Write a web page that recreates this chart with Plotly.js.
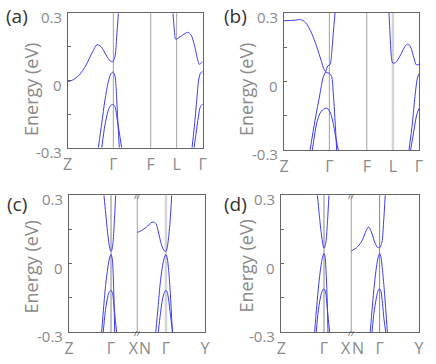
<!DOCTYPE html>
<html><head><meta charset="utf-8">
<script src="https://cdn.plot.ly/plotly-3.0.1.min.js"></script>
<style>html,body{margin:0;padding:0;background:#fff}#chart{width:436px;height:364px}</style>
</head><body><div id="chart"></div>
<script>
// ---------- tick labels / high-symmetry points ----------
var a_tickvals = [0, 0.338, 0.615, 0.807, 1];
var a_ticktext = ['Z', 'Γ', 'F', 'L', 'Γ'];
var b_tickvals = [0, 0.336, 0.613, 0.807, 1];
var b_ticktext = ['Z', 'Γ', 'F', 'L', 'Γ'];
var c_tickvals = [0, 0.309, 0.474, 0.559, 0.713, 1];
var c_ticktext = ['Z', 'Γ', 'X', 'N', 'Γ', 'Y'];
var d_tickvals = [0, 0.310, 0.467, 0.557, 0.714, 1];
var d_ticktext = ['Z', 'Γ', 'X', 'N', 'Γ', 'Y'];
var c_break = 0.502, d_break = 0.508;
var y_tickvals = [-0.3, -0.15, 0, 0.15, 0.3];
var y_labelvals = [-0.3, 0, 0.3];
var y_labeltext = ['-0.3', '0', '0.3'];

// ---------- panel (a) bands ----------
var a_cb1_x = [0, 0.037, 0.086, 0.136, 0.185, 0.218, 0.247, 0.284, 0.316, 0.333, 0.350, 0.363, 0.375];
var a_cb1_y = [-0.005, 0.002, 0.025, 0.069, 0.129, 0.160, 0.151, 0.114, 0.087, 0.084, 0.106, 0.196, 0.3];
var a_v1_x = [0.227, 0.252, 0.276, 0.301, 0.319, 0.333, 0.348, 0.358, 0.367, 0.382];
var a_v1_y = [-0.3, -0.191, -0.087, -0.005, 0.029, 0.037, 0.025, -0.028, -0.132, -0.3];
var a_v2_x = [0.252, 0.276, 0.301, 0.319, 0.333, 0.350, 0.367, 0.387, 0.399];
var a_v2_y = [-0.3, -0.199, -0.132, -0.111, -0.107, -0.117, -0.176, -0.251, -0.3];
var a_cb2_x = [0.780, 0.790, 0.800, 0.815, 0.852, 0.889, 0.914, 0.938, 0.963, 0.975, 0.988, 1.0];
var a_cb2_y = [0.3, 0.226, 0.184, 0.188, 0.203, 0.215, 0.203, 0.159, 0.092, 0.072, 0.077, 0.084];
var a_v1r_x = [0.921, 0.938, 0.956, 0.970, 0.985, 1.0];
var a_v1r_y = [-0.3, -0.206, -0.087, 0.002, 0.035, 0.039];
var a_v2r_x = [0.936, 0.951, 0.968, 0.983, 1.0];
var a_v2r_y = [-0.3, -0.236, -0.162, -0.117, -0.105];

// ---------- panel (b) bands ----------
var b_b1_x = [0, 0.074, 0.123, 0.160, 0.205, 0.242, 0.274, 0.299, 0.316, 0.336, 0.353, 0.365, 0.378, 0.390];
var b_b1_y = [0.266, 0.268, 0.271, 0.258, 0.211, 0.153, 0.094, 0.050, 0.039, 0.036, 0.021, -0.052, -0.169, -0.3];
var b_b2_x = [0.193, 0.230, 0.267, 0.291, 0.309, 0.324, 0.341, 0.353, 0.365, 0.378];
var b_b2_y = [-0.3, -0.169, -0.052, 0.021, 0.043, 0.068, 0.074, 0.123, 0.211, 0.3];
var b_b3_x = [0.210, 0.242, 0.267, 0.291, 0.316, 0.333, 0.353, 0.378, 0.402];
var b_b3_y = [-0.3, -0.183, -0.139, -0.122, -0.117, -0.125, -0.154, -0.227, -0.3];
var b_cb_x = [0.778, 0.785, 0.795, 0.805, 0.827, 0.864, 0.901, 0.919, 0.938, 0.963, 0.980, 1.0];
var b_cb_y = [0.3, 0.212, 0.110, 0.081, 0.083, 0.117, 0.158, 0.164, 0.151, 0.102, 0.073, 0.076];
var b_b1r_x = [0.926, 0.951, 0.970, 0.988, 1.0];
var b_b1r_y = [-0.3, -0.183, -0.066, 0.015, 0.034];
var b_b3r_x = [0.938, 0.963, 0.983, 1.0];
var b_b3r_y = [-0.3, -0.212, -0.146, -0.117];

// ---------- panel (c) bands ----------
var c_cb1_x = [0.257, 0.270, 0.283, 0.296, 0.305, 0.309, 0.314, 0.323, 0.333, 0.343];
var c_cb1_y = [0.3, 0.22, 0.14, 0.08, 0.057, 0.054, 0.058, 0.09, 0.18, 0.3];
var c_v1_x = [0.240, 0.255, 0.270, 0.285, 0.298, 0.309, 0.317, 0.323, 0.329, 0.336];
var c_v1_y = [-0.3, -0.19, -0.09, -0.02, 0.025, 0.040, 0.025, -0.02, -0.12, -0.3];
var c_v2_x = [0.252, 0.265, 0.280, 0.295, 0.309, 0.320, 0.330, 0.341, 0.350];
var c_v2_y = [-0.3, -0.22, -0.16, -0.125, -0.117, -0.13, -0.18, -0.25, -0.3];
var c_cb2_x = [0.502, 0.520, 0.571, 0.600, 0.620, 0.640, 0.657, 0.681, 0.701, 0.713, 0.725, 0.743, 0.755];
var c_cb2_y = [0.138, 0.141, 0.161, 0.178, 0.183, 0.175, 0.139, 0.081, 0.056, 0.054, 0.081, 0.183, 0.3];
var c_v1r_x = [0.638, 0.655, 0.670, 0.685, 0.700, 0.712, 0.722, 0.733, 0.745, 0.760];
var c_v1r_y = [-0.3, -0.19, -0.09, -0.02, 0.025, 0.040, 0.025, -0.03, -0.13, -0.3];
var c_v2r_x = [0.657, 0.672, 0.688, 0.702, 0.712, 0.722, 0.733, 0.745, 0.762];
var c_v2r_y = [-0.3, -0.22, -0.155, -0.125, -0.117, -0.125, -0.16, -0.22, -0.3];

// ---------- panel (d) bands ----------
var d_cb1_x = [0.262, 0.275, 0.287, 0.299, 0.306, 0.310, 0.315, 0.325, 0.336, 0.346];
var d_cb1_y = [0.3, 0.22, 0.15, 0.095, 0.072, 0.068, 0.072, 0.10, 0.19, 0.3];
var d_v1_x = [0.242, 0.257, 0.272, 0.287, 0.300, 0.310, 0.318, 0.324, 0.331, 0.339];
var d_v1_y = [-0.3, -0.19, -0.09, -0.015, 0.030, 0.044, 0.030, -0.02, -0.12, -0.3];
var d_v2_x = [0.254, 0.267, 0.282, 0.297, 0.310, 0.321, 0.331, 0.342, 0.351];
var d_v2_y = [-0.3, -0.215, -0.155, -0.12, -0.110, -0.123, -0.175, -0.245, -0.3];
var d_cb2_x = [0.508, 0.545, 0.581, 0.617, 0.634, 0.654, 0.678, 0.697, 0.714, 0.731, 0.743, 0.755];
var d_cb2_y = [0.056, 0.069, 0.095, 0.146, 0.161, 0.139, 0.095, 0.073, 0.070, 0.095, 0.183, 0.3];
var d_v1r_x = [0.646, 0.661, 0.676, 0.691, 0.704, 0.714, 0.723, 0.735, 0.750, 0.770];
var d_v1r_y = [-0.3, -0.19, -0.09, -0.015, 0.030, 0.044, 0.030, -0.03, -0.13, -0.3];
var d_v2r_x = [0.659, 0.673, 0.689, 0.702, 0.714, 0.724, 0.735, 0.746, 0.758];
var d_v2r_y = [-0.3, -0.215, -0.155, -0.12, -0.110, -0.123, -0.175, -0.245, -0.3];

// ---------- build ----------
var BLUE = '#3c3cf5';
var traces = [];
function band(x, y, ax) {
  traces.push({x: x, y: y, xaxis: 'x' + ax, yaxis: 'y' + ax, type: 'scatter', mode: 'lines',
    line: {color: BLUE, width: 1, shape: 'spline', smoothing: 0.8}, hoverinfo: 'skip', showlegend: false});
}
band(a_cb1_x, a_cb1_y, ''); band(a_v1_x, a_v1_y, ''); band(a_v2_x, a_v2_y, '');
band(a_cb2_x, a_cb2_y, ''); band(a_v1r_x, a_v1r_y, ''); band(a_v2r_x, a_v2r_y, '');
band(b_b1_x, b_b1_y, '2'); band(b_b2_x, b_b2_y, '2'); band(b_b3_x, b_b3_y, '2');
band(b_cb_x, b_cb_y, '2'); band(b_b1r_x, b_b1r_y, '2'); band(b_b3r_x, b_b3r_y, '2');
band(c_cb1_x, c_cb1_y, '3'); band(c_v1_x, c_v1_y, '3'); band(c_v2_x, c_v2_y, '3');
band(c_cb2_x, c_cb2_y, '3'); band(c_v1r_x, c_v1r_y, '3'); band(c_v2r_x, c_v2r_y, '3');
band(d_cb1_x, d_cb1_y, '4'); band(d_v1_x, d_v1_y, '4'); band(d_v2_x, d_v2_y, '4');
band(d_cb2_x, d_cb2_y, '4'); band(d_v1r_x, d_v1r_y, '4'); band(d_v2r_x, d_v2r_y, '4');

var W = 436, H = 364;
function dx(p0, p1) { return [p0 / W, p1 / W]; }
function dy(top, bot) { return [1 - bot / H, 1 - top / H]; }
var FONT = '"Open Sans", "DejaVu Sans", sans-serif';
var FRAME = '#666666';
var TXT = '#8a8a8a';
function xax(dom, tv, tt) {
  return {domain: dom, range: [0, 1], showgrid: false, zeroline: false, showline: true, mirror: true,
    linecolor: FRAME, linewidth: 1, ticks: '', tickvals: tv, ticktext: tt, tickangle: 0, ticklabelstandoff: 2,
    tickfont: {family: FONT, size: 16, color: TXT}, fixedrange: true};
}
function yax(dom, anchor) {
  return {domain: dom, anchor: anchor, range: [-0.3, 0.3], showgrid: false, zeroline: false, showline: true, mirror: true,
    linecolor: FRAME, linewidth: 1, ticks: 'inside', ticklen: 3, tickcolor: FRAME, tickwidth: 1,
    tickvals: y_tickvals, showticklabels: false, fixedrange: true};
}
var shapes = [];
function vline(ax, x, color, width) {
  shapes.push({type: 'line', xref: 'x' + ax, yref: 'y' + ax + ' domain', x0: x, x1: x, y0: 0, y1: 1,
    line: {color: color, width: width}, layer: 'below'});
}
var G = '#a0a0a0', LG = '#d4d4d4';
vline('', a_tickvals[1], G, 1); vline('', a_tickvals[2], G, 1); vline('', a_tickvals[3], G, 1);
vline('2', b_tickvals[1], G, 1); vline('2', b_tickvals[2], G, 1); vline('2', b_tickvals[3], LG, 2.5);
vline('3', c_tickvals[1], '#888888', 1); vline('3', c_break, G, 1); vline('3', c_tickvals[4], LG, 2.5);
vline('4', d_tickvals[1], '#888888', 1); vline('4', d_break, G, 1); vline('4', d_tickvals[4], '#888888', 1);

var ann = [];
function label(txt, px, py) {
  ann.push({text: txt, xref: 'paper', yref: 'paper', x: px / W, y: 1 - py / H, xanchor: 'center', yanchor: 'middle',
    showarrow: false, font: {family: FONT, size: 19, color: '#333333'}});
}
function ytitle(px, py) {
  ann.push({text: 'Energy (eV)', xref: 'paper', yref: 'paper', x: px / W, y: 1 - py / H, xanchor: 'center', yanchor: 'middle',
    textangle: -90, showarrow: false, font: {family: FONT, size: 18, color: TXT}});
}
function ylabels(ax, leftpx) {
  for (var i = 0; i < y_labelvals.length; i++) {
    ann.push({text: y_labeltext[i], xref: 'paper', yref: 'y' + ax, x: (leftpx - 4) / W, y: y_labelvals[i],
      xanchor: 'right', yanchor: 'middle', yshift: -4, showarrow: false,
      font: {family: FONT, size: 15, color: TXT}});
  }
}
function brk(ax, x, yv) {
  ann.push({text: '//', xref: 'x' + ax, yref: 'y' + ax, x: x, y: yv, xanchor: 'center', yanchor: 'middle',
    showarrow: false, font: {family: FONT, size: 8, color: '#444444'}});
}
label('(a)', 17, 16); label('(b)', 235, 16); label('(c)', 17, 204); label('(d)', 235, 204);
ytitle(30.5, 89.5); ytitle(245.5, 89.5); ytitle(30.5, 267); ytitle(245.5, 266);
ylabels('', 67.7); ylabels('2', 284); ylabels('3', 69); ylabels('4', 281.3);
brk('3', c_break, 0.3); brk('3', c_break, -0.3); brk('4', d_break, 0.3); brk('4', d_break, -0.3);

var layout = {
  width: W, height: H, margin: {l: 0, r: 0, t: 0, b: 0}, paper_bgcolor: '#fff', plot_bgcolor: '#fff',
  showlegend: false, font: {family: FONT},
  xaxis: Object.assign(xax(dx(67.7, 202.7), a_tickvals, a_ticktext), {anchor: 'y'}), yaxis: yax(dy(13.3, 147.7), 'x'),
  xaxis2: Object.assign(xax(dx(284, 419), b_tickvals, b_ticktext), {anchor: 'y2'}), yaxis2: yax(dy(13, 150), 'x2'),
  xaxis3: Object.assign(xax(dx(69, 205), c_tickvals, c_ticktext), {anchor: 'y3'}), yaxis3: yax(dy(195.3, 332), 'x3'),
  xaxis4: Object.assign(xax(dx(281.3, 419), d_tickvals, d_ticktext), {anchor: 'y4'}), yaxis4: yax(dy(195.3, 332), 'x4'),
  shapes: shapes, annotations: ann
};
Plotly.newPlot('chart', traces, layout, {displayModeBar: false, staticPlot: true});
</script></body></html>
